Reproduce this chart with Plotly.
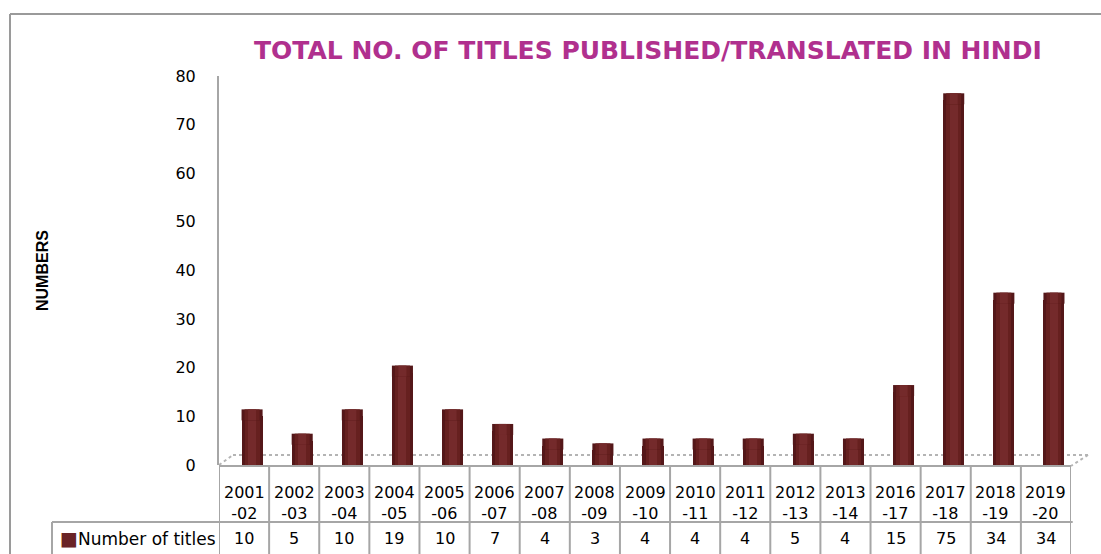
import plotly.graph_objects as go

# Data
seasons = ["2001-02", "2002-03", "2003-04", "2004-05", "2005-06", "2006-07",
           "2007-08", "2008-09", "2009-10", "2010-11", "2011-12", "2012-13",
           "2013-14", "2016-17", "2017-18", "2018-19", "2019-20"]
titles = [10, 5, 10, 19, 10, 7, 4, 3, 4, 4, 4, 5, 4, 15, 75, 34, 34]
y_ticks = [0, 10, 20, 30, 40, 50, 60, 70, 80]
series_name = "Number of titles"

W, H = 1101, 554
L, R, T, B = 219, 30, 76, 89
PW, PH = W - L - R, H - T - B


def px(x):
    return (x - L) / PW


def py(y):
    return (H - B - y) / PH


GRID = "#a6a6a6"
FONT = "DejaVu Sans"
SHIFT = 0.16          # columns sit slightly right of the category centre (3D depth)
STRIPS = [(0.42, "#541719"), (0.30, "#66201f"), (0.16, "#742a2b")]

fig = go.Figure()

# cylinder-like shading: dark body with lighter inner strips
for width, color in STRIPS:
    fig.add_trace(go.Bar(
        x=seasons, y=titles, width=width, offset=SHIFT - width / 2,
        marker=dict(color=color, line=dict(width=0)),
        showlegend=False, hoverinfo="skip",
    ))

shapes = []
# perspective cap on top of each column (a few pixels above its value)
for i, v in enumerate(titles):
    for width, color in STRIPS:
        shapes.append(dict(type="rect", xref="x", yref="y", ysizemode="pixel",
                           yanchor=v, y0=-4, y1=7,
                           x0=i + SHIFT - width / 2, x1=i + SHIFT + width / 2,
                           fillcolor=color, line=dict(width=0), layer="above"))

# outer chart frame
shapes.append(dict(type="line", xref="paper", yref="paper",
                   x0=px(10), x1=px(W + 5), y0=py(14), y1=py(14),
                   line=dict(color="#9a9a9a", width=2)))
shapes.append(dict(type="line", xref="paper", yref="paper",
                   x0=px(10), x1=px(10), y0=py(14), y1=py(H + 5),
                   line=dict(color="#9a9a9a", width=2)))
# floor (dotted outline of the 3D base)
floor = [((219, 465), (233, 455)), ((233, 455), (1088, 455)), ((1088, 455), (1071, 466))]
for (xa, ya), (xb, yb) in floor:
    shapes.append(dict(type="line", xref="paper", yref="paper",
                       x0=px(xa), x1=px(xb), y0=py(ya), y1=py(yb),
                       line=dict(color="#b4b4b4", width=2, dash="dot"),
                       layer="below"))

# data table grid
row_mid = py(522)
bottom = py(H + 5)
shapes.append(dict(type="line", xref="paper", yref="paper",
                   x0=0, x1=1, y0=py(466), y1=py(466),
                   line=dict(color=GRID, width=2)))
shapes.append(dict(type="line", xref="paper", yref="paper",
                   x0=px(52), x1=1.002, y0=row_mid, y1=row_mid,
                   line=dict(color=GRID, width=2)))
shapes.append(dict(type="line", xref="paper", yref="paper",
                   x0=px(52), x1=px(52), y0=row_mid, y1=bottom,
                   line=dict(color=GRID, width=2)))
for k in range(len(seasons) + 1):
    shapes.append(dict(type="line", xref="x", yref="paper",
                       x0=k - 0.5, x1=k - 0.5, y0=py(466), y1=bottom,
                       line=dict(color=GRID, width=2)))

annotations = []
for i, (s, v) in enumerate(zip(seasons, titles)):
    a, b = s.split("-")
    annotations.append(dict(x=i, y=py(503), xref="x", yref="paper",
                            text=f"{a}<br>-{b}", showarrow=False,
                            font=dict(family=FONT, size=16, color="#000"),
                            xanchor="center", yanchor="middle"))
    annotations.append(dict(x=i, y=py(538), xref="x", yref="paper",
                            text=str(v), showarrow=False,
                            font=dict(family=FONT, size=16, color="#000"),
                            xanchor="center", yanchor="middle"))

annotations.append(dict(x=px(58), y=py(538), xref="paper", yref="paper",
                        text=f"<span style='color:#6a2326;font-size:19px'>■</span>{series_name}",
                        showarrow=False, xanchor="left", yanchor="middle",
                        font=dict(family=FONT, size=17, color="#000")))

annotations.append(dict(x=px(648), y=py(50), xref="paper", yref="paper",
                        text="<b>TOTAL NO. OF TITLES PUBLISHED/TRANSLATED IN HINDI</b>",
                        showarrow=False, xanchor="center", yanchor="middle",
                        font=dict(family=FONT, size=25, color="#b0308e")))

annotations.append(dict(x=px(42), y=py(271), xref="paper", yref="paper",
                        text="<b>NUMBERS</b>", textangle=-90,
                        showarrow=False, xanchor="center", yanchor="middle",
                        font=dict(family="Liberation Sans", size=16, color="#000")))

fig.update_layout(
    width=W, height=H,
    margin=dict(l=L, r=R, t=T, b=B, pad=0),
    paper_bgcolor="white", plot_bgcolor="white",
    barmode="overlay", bargap=0,
    shapes=shapes, annotations=annotations,
    showlegend=False,
    xaxis=dict(type="category", range=[-0.5, len(seasons) - 0.5],
               showticklabels=False, showgrid=False, zeroline=False,
               showline=False, ticks=""),
    yaxis=dict(range=[0, 80], tickvals=y_ticks, showgrid=False,
               zeroline=False, showline=True, linecolor=GRID, linewidth=2,
               ticks="", ticklabelstandoff=18,
               tickfont=dict(family=FONT, size=16, color="#000")),
)

fig.write_html("out.html")
